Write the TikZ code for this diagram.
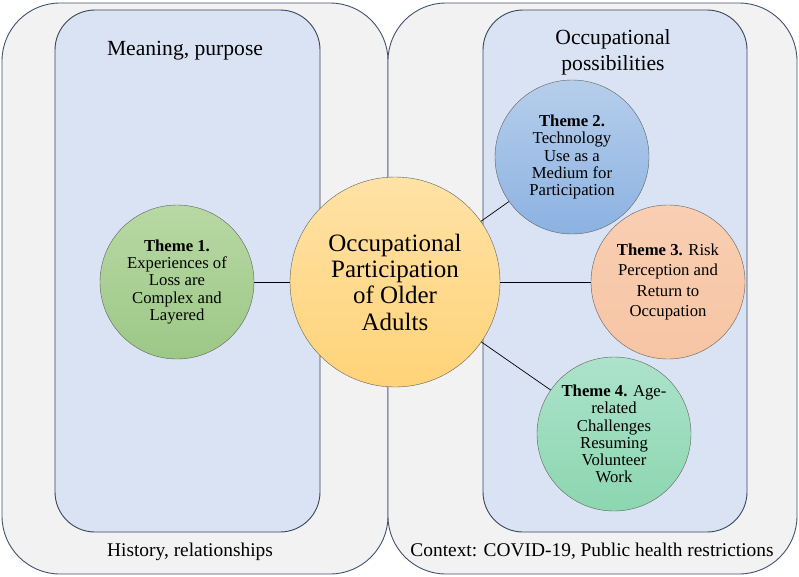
\documentclass[tikz,border=0pt]{standalone}
\usepackage{fontspec}
\setmainfont{Liberation Serif}
\usepackage{xcolor}
\usetikzlibrary{positioning}

\definecolor{boxline}{RGB}{66,82,108}
\definecolor{outerfill}{RGB}{242,242,242}
\definecolor{innerfill}{RGB}{218,227,243}
\definecolor{lossA}{RGB}{184,216,164}
\definecolor{lossB}{RGB}{156,200,134}
\definecolor{techA}{RGB}{182,206,235}
\definecolor{techB}{RGB}{140,178,226}
\definecolor{riskA}{RGB}{249,206,178}
\definecolor{riskB}{RGB}{246,197,164}
\definecolor{ageA}{RGB}{172,227,202}
\definecolor{ageB}{RGB}{140,214,176}
\definecolor{hubA}{RGB}{255,226,166}
\definecolor{hubB}{RGB}{255,211,120}

\tikzset{
  outerbox/.style={draw=boxline, fill=outerfill, line width=0.9pt, rounded corners=58pt},
  innerbox/.style={draw=boxline!85!black, fill=innerfill, line width=0.9pt, rounded corners=40pt},
  theme/.style={circle, draw=gray!75!black, line width=0.4pt, minimum size=154pt, inner sep=0pt,
    align=center, font=\fontsize{16.7}{17.3}\selectfont},
  hub/.style={circle, draw=gray!75!black, line width=0.4pt, minimum size=210pt, inner sep=0pt,
    align=center, font=\fontsize{25}{26.3}\selectfont},
  boxlabel/.style={anchor=base, align=center, font=\fontsize{21.6}{26}\selectfont},
  ctxlabel/.style={anchor=base, font=\fontsize{19.4}{22}\selectfont},
  link/.style={black, line width=0.7pt}
}

\begin{document}
\begin{tikzpicture}[x=1pt, y=-1pt]

\useasboundingbox (0,0) rectangle (799,576);

\draw[outerbox] (2,3) rectangle (388,574);
\draw[outerbox] (388,3) rectangle (797,574);

\draw[innerbox] (55,10) rectangle (320,532);
\draw[innerbox] (483,10) rectangle (747,532);

\node[boxlabel] (meaning) at (185,55) {Meaning, purpose};
\node[boxlabel] (possib) at (613,70) {Occupational\\possibilities};
\node[ctxlabel] (history) at (190,556) {History, relationships};
\node[ctxlabel] (context) at (592,556) {Context: COVID-19, Public health restrictions};

\node[hub, top color=hubA, bottom color=hubB] (hub) at (395,282)
  {Occupational\\Participation\\of Older\\Adults};

\node[theme, top color=lossA, bottom color=lossB] (loss) at (177,282)
  {\textbf{Theme 1.}\\Experiences of\\Loss are\\Complex and\\Layered};
\node[theme, top color=techA, bottom color=techB] (tech) at (572,157)
  {\textbf{Theme 2.}\\Technology\\Use as a\\Medium for\\Participation};
\node[theme, top color=riskA, bottom color=riskB, font=\fontsize{16.7}{20.3}\selectfont] (risk) at (668,282)
  {\textbf{Theme 3.} Risk\\Perception and\\Return to\\Occupation};
\node[theme, top color=ageA, bottom color=ageB] (age) at (614,434)
  {\textbf{Theme 4.} Age-\\related\\Challenges\\Resuming\\Volunteer\\Work};

\draw[link] (loss) -- (hub);
\draw[link] (hub) -- (tech);
\draw[link] (hub) -- (risk);
\draw[link] (hub) -- (age);

\end{tikzpicture}
\end{document}
